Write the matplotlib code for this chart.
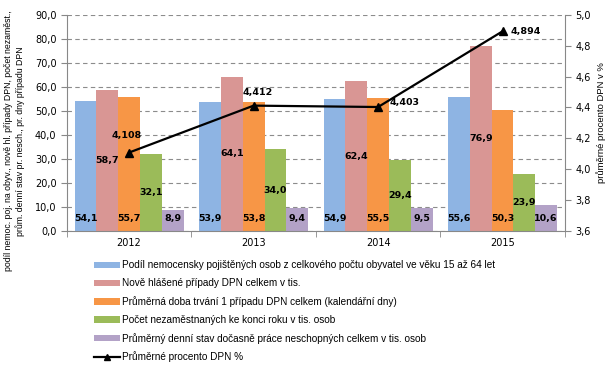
import numpy as np
from matplotlib import pyplot as plt
from matplotlib.lines import Line2D

plt.rcParams['font.family'] = ['DejaVu Sans']

# data
years = ['2012', '2013', '2014', '2015']
podil = [54.1, 53.9, 54.9, 55.6]
nove = [58.7, 64.1, 62.4, 76.9]
doba = [55.7, 53.8, 55.5, 50.3]
nezam = [32.1, 34.0, 29.4, 23.9]
stav = [8.9, 9.4, 9.5, 10.6]
procento = [4.108, 4.412, 4.403, 4.894]

series = [
    (podil, '#8EB4E3', 'Podíl nemocensky pojištěných osob z celkového počtu obyvatel ve věku 15 až 64 let', 'base'),
    (nove, '#D99694', 'Nově hlášené případy DPN celkem v tis.', 'mid'),
    (doba, '#F79646', 'Průměrná doba trvání 1 případu DPN celkem (kalendářní dny)', 'base'),
    (nezam, '#9BBB59', 'Počet nezaměstnaných ke konci roku v tis. osob', 'mid'),
    (stav, '#B3A2C7', 'Průměrný denní stav dočasně práce neschopných celkem v tis. osob', 'base'),
]

def fmt(v, d=1):
    return f'{v:.{d}f}'.replace('.', ',')

fig = plt.figure(figsize=(6.08, 3.73), dpi=100)
ax = fig.add_axes([0.110, 0.381, 0.819, 0.579])
ax2 = ax.twinx()

x = np.arange(len(years))
w = 0.175
for i, (vals, col, lab, pos) in enumerate(series):
    xs = x + (i - 2) * w
    ax.bar(xs, vals, w, color=col, label=lab, zorder=2)
    for xi, v in zip(xs, vals):
        y = v / 2 if pos == 'mid' else 5.3
        ax.text(xi, y, fmt(v), ha='center', va='center', fontsize=6.8,
                fontweight='bold', zorder=3)

ax.set_xlim(-0.5, 3.5)
ax.set_ylim(0, 90)
ax.set_yticks(np.arange(0, 91, 10))
ax.set_yticklabels([fmt(t) for t in np.arange(0, 91, 10)], fontsize=7)
ax.yaxis.grid(True, linestyle=(0, (4, 3)), color='#8c8c8c', linewidth=0.8, zorder=0)
ax.set_axisbelow(True)
ax.set_xticks(x)
ax.set_xticklabels(years, fontsize=7)
ax.tick_params(axis='x', length=0, pad=5)
ax.set_xticks([-0.5, 0.5, 1.5, 2.5, 3.5], minor=True)
ax.tick_params(axis='x', which='minor', length=4, color='#888888')
ax.tick_params(axis='y', length=4, color='#888888')
for s in ['top', 'right']:
    ax.spines[s].set_visible(False)
ax.spines['left'].set_color('#888888')
ax.spines['bottom'].set_color('#888888')
ax.set_ylabel('podíl nemoc. poj. na obyv., nově hl. případy DPN, počet nezaměst.,\n'
              'prům. denní stav pr. nesch., pr. dny případu DPN',
              fontsize=6.3, family='Liberation Sans', labelpad=4)
ax.yaxis.set_label_coords(-0.085, 0.417)

ax2.plot(x, procento, color='black', marker='^', markersize=6, linewidth=1.6, zorder=5)
ax2.set_ylim(3.6, 5.0)
ax2.set_yticks(np.arange(3.6, 5.01, 0.2))
ax2.set_yticklabels([fmt(t) for t in np.arange(3.6, 5.01, 0.2)], fontsize=7)
ax2.tick_params(axis='y', length=4, color='#888888')
for s in ['top', 'left', 'bottom']:
    ax2.spines[s].set_visible(False)
ax2.spines['right'].set_color('#888888')
ax2.set_ylabel('průměrné procento DPN v %', fontsize=6.8, family='Liberation Sans', labelpad=4)

offsets = [(-1.5, 12), (3, 9.5), (19, 3.5), (17, 0)]
for xi, v, off in zip(x, procento, offsets):
    ax2.annotate(fmt(v, 3), (xi, v), xytext=off, textcoords='offset points',
                 ha='center', va='center', fontsize=6.8, fontweight='bold')

handles, labels = ax.get_legend_handles_labels()
handles.append(Line2D([], [], color='black', marker='^', markersize=4, linewidth=1.6))
labels.append('Průměrné procento DPN %')
fig.legend(handles, labels, loc='upper left', bbox_to_anchor=(0.155, 0.302),
           frameon=False, prop={'family': 'Liberation Sans', 'size': 7.2},
           handlelength=2.6, handleheight=0.6,
           handletextpad=0.15, labelspacing=0.79, borderaxespad=0, borderpad=0)

fig.savefig('out.png', dpi=100)
